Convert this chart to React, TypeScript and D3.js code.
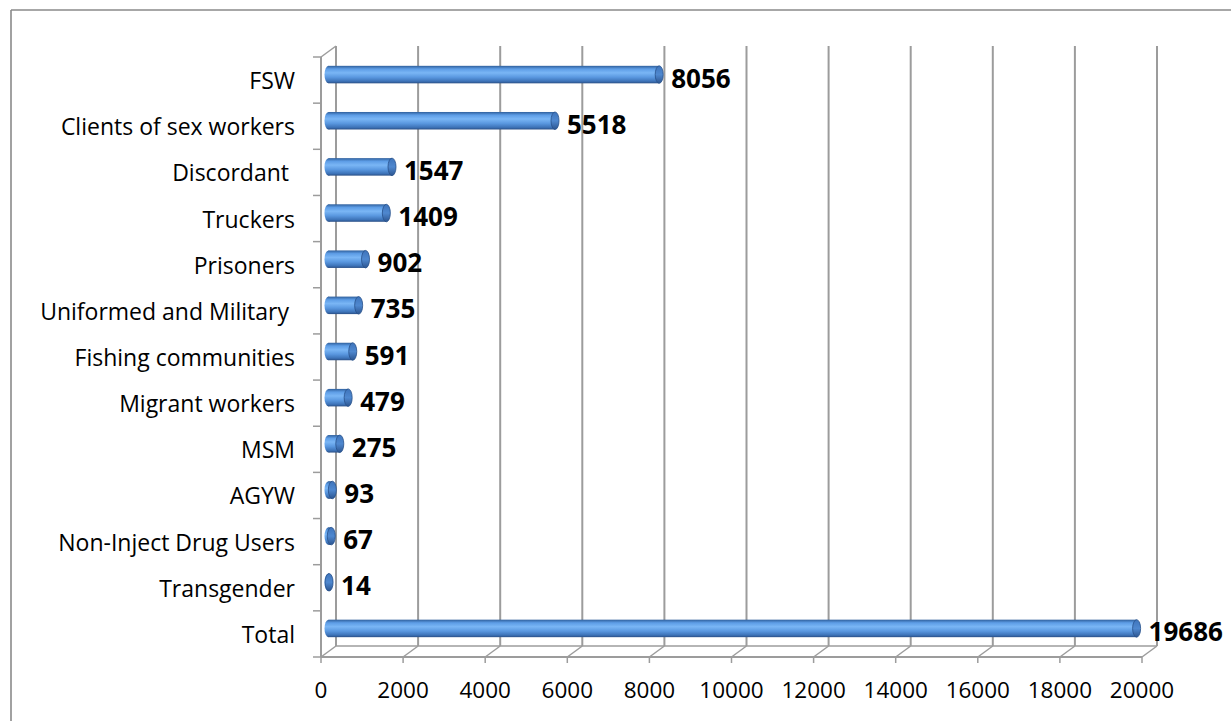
import React from "react";
import * as d3 from "d3";

// Categories, top to bottom
const categories: string[] = [
  "FSW",
  "Clients of sex workers",
  "Discordant ",
  "Truckers",
  "Prisoners",
  "Uniformed and Military ",
  "Fishing communities",
  "Migrant workers",
  "MSM",
  "AGYW",
  "Non-Inject Drug Users",
  "Transgender",
  "Total",
];

const values: number[] = [8056, 5518, 1547, 1409, 902, 735, 591, 479, 275, 93, 67, 14, 19686];

const xTicks: number[] = [0, 2000, 4000, 6000, 8000, 10000, 12000, 14000, 16000, 18000, 20000];

const W = 1231;
const H = 721;

// front plane of the 3-D plot box
const left = 321;
const right = 1142;
const top = 57;
const bottom = 657;
// depth offset of the back wall
const DX = 15;
const DY = -11;

const FONT = "'Open Sans', Lato, sans-serif";

export default function App() {
  const x = d3.scaleLinear().domain([0, 20000]).range([left, right]);
  const y = d3.scaleBand<string>().domain(categories).range([top, bottom]).paddingInner(0).paddingOuter(0);
  const bw = y.bandwidth();
  const barH = 17.5;
  const capRx = 4;

  const grid = "#9c9c9c";

  return (
    <svg width={W} height={H} style={{ position: "absolute", left: 0, top: 0, background: "#fff" }}>
      <defs>
        <linearGradient id="cyl" x1="0" y1="0" x2="0" y2="1">
          <stop offset="0%" stopColor="#2f5f9c" />
          <stop offset="18%" stopColor="#5d9de6" />
          <stop offset="40%" stopColor="#7ab6f5" />
          <stop offset="65%" stopColor="#5a98e0" />
          <stop offset="88%" stopColor="#3d73b8" />
          <stop offset="100%" stopColor="#2a4f86" />
        </linearGradient>
        <linearGradient id="cap" x1="0" y1="0" x2="0" y2="1">
          <stop offset="0%" stopColor="#3e74bb" />
          <stop offset="50%" stopColor="#4f88cf" />
          <stop offset="100%" stopColor="#2c5590" />
        </linearGradient>
      </defs>

      {/* outer frame */}
      <line x1={11} y1={10} x2={W} y2={10} stroke="#8a8a8a" strokeWidth={1.6} />
      <line x1={11} y1={10} x2={11} y2={H} stroke="#8a8a8a" strokeWidth={1.6} />

      {/* back wall gridlines */}
      {xTicks.map((t) => (
        <line
          key={"g" + t}
          x1={x(t) + DX}
          x2={x(t) + DX}
          y1={top + DY}
          y2={bottom + DY}
          stroke={grid}
          strokeWidth={2}
        />
      ))}

      {/* floor */}
      <line x1={left + DX} x2={right + DX} y1={bottom + DY} y2={bottom + DY} stroke={grid} strokeWidth={1.5} />
      <line x1={left} x2={right} y1={bottom} y2={bottom} stroke={grid} strokeWidth={2} />
      {xTicks.map((t) => (
        <line
          key={"d" + t}
          x1={x(t)}
          y1={bottom}
          x2={x(t) + DX}
          y2={bottom + DY}
          stroke={grid}
          strokeWidth={1.5}
        />
      ))}

      {/* side wall */}
      <line x1={left} x2={left} y1={top} y2={bottom} stroke={grid} strokeWidth={2} />
      <line x1={left} y1={top} x2={left + DX} y2={top + DY} stroke={grid} strokeWidth={1.5} />

      {/* axis ticks */}
      {xTicks.map((t) => (
        <line key={"xt" + t} x1={x(t)} x2={x(t)} y1={bottom} y2={bottom + 6} stroke={grid} strokeWidth={1.5} />
      ))}
      {d3.range(categories.length + 1).map((i) => (
        <line
          key={"yt" + i}
          x1={left - 8}
          x2={left}
          y1={top + i * bw}
          y2={top + i * bw}
          stroke={grid}
          strokeWidth={1.5}
        />
      ))}

      {/* x tick labels */}
      {xTicks.map((t) => (
        <text
          key={"xl" + t}
          x={x(t)}
          y={698}
          textAnchor="middle"
          fontFamily={FONT}
          fontSize={22.5}
          fill="#000"
        >
          {t}
        </text>
      ))}

      {/* category labels */}
      {categories.map((c) => (
        <text
          key={"cl" + c}
          x={295}
          y={(y(c) as number) + bw / 2 + 9}
          textAnchor="end"
          fontFamily={FONT}
          fontSize={23}
          fill="#000"
          style={{ whiteSpace: "pre" }}
        >
          {c}
        </text>
      ))}

      {/* cylinders */}
      {categories.map((c, i) => {
        const cy = (y(c) as number) + bw / 2 - 5.5;
        const x0 = x(0) + 7.5;
        const x1 = x(values[i]) + 7.5;
        return (
          <g key={"b" + c}>
            <ellipse cx={x0} cy={cy} rx={capRx} ry={barH / 2} fill="url(#cyl)" />
            <rect x={x0} y={cy - barH / 2} width={Math.max(0, x1 - x0)} height={barH} fill="url(#cyl)" />
            <ellipse
              cx={x1}
              cy={cy}
              rx={capRx}
              ry={barH / 2}
              fill="url(#cap)"
              stroke="#27508a"
              strokeWidth={0.8}
            />
            <text
              x={x1 + 12}
              y={cy + 13}
              fontFamily={FONT}
              fontWeight={700}
              fontSize={26}
              fill="#000"
            >
              {values[i]}
            </text>
          </g>
        );
      })}
    </svg>
  );
}
